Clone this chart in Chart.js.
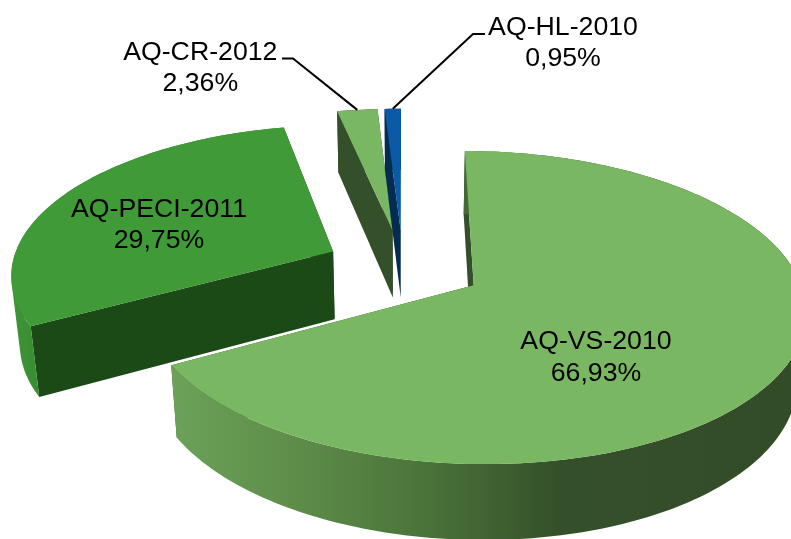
<!DOCTYPE html>
<html>
<head>
<meta charset="utf-8">
<style>html,body{margin:0;padding:0;background:#fff;overflow:hidden}canvas{display:block}</style>
<script src="https://cdn.jsdelivr.net/npm/chart.js@4/dist/chart.umd.js"></script>
</head>
<body>
<canvas id="c" width="791" height="539"></canvas>
<script>
const categories = ["AQ-VS-2010", "AQ-PECI-2011", "AQ-CR-2012", "AQ-HL-2010"];
const shares = [66.93, 29.75, 2.36, 0.95];
const shareLabels = ["66,93%", "29,75%", "2,36%", "0,95%"];
const topColors = ["#79b762", "#3f9a37", "#79b762", "#0a5aa6"];
const faceColors = ["#34502a", "#1c4a17", "#34502a", "#042b50"];
const explodePx = [60, 58, 60, 60];

// Camera of the tilted pie (perspective projection of the disc plane)
const CAM = {cx: 403, vpY: -787, A: 1072, B: 327.5, s0: 1.018, p: 0.143, c: 0.0226, D: 95};
function project(X, Y, z) {
  const w = CAM.s0 - CAM.p * Y + CAM.c * z;
  return {x: CAM.cx + X * CAM.B / w, y: CAM.vpY + (CAM.A + CAM.D * z) / w};
}
const RIM_STOPS = [
  [[172, "#6ba258"], [300, "#5d8c49"], [430, "#4a7239"], [560, "#34502a"], [791, "#334c28"]],
  [[0, "#3f9a37"], [40, "#398c32"]],
  [[330, "#34502a"], [400, "#34502a"]],
  [[380, "#042b50"], [410, "#042b50"]]
];

class Arc3D extends Chart.ArcElement {
  draw(ctx) {
    const i = this.$context.dataIndex;
    const R = this.outerRadius;
    const e = this.options.offset / R;
    const a0 = this.startAngle, a1 = this.endAngle, mid = (a0 + a1) / 2;
    const ox = Math.cos(mid) * e, oy = Math.sin(mid) * e;
    const steps = Math.max(2, Math.ceil((a1 - a0) / 0.02));
    const rimAt = (k, z) => {
      const a = a0 + (a1 - a0) * k / steps;
      return project(ox + Math.cos(a), oy + Math.sin(a), z);
    };
    const trace = pts => pts.forEach((p, n) => n ? ctx.lineTo(p.x, p.y) : ctx.moveTo(p.x, p.y));
    const poly = (pts, fill) => {
      ctx.beginPath();
      trace(pts);
      ctx.closePath();
      ctx.fillStyle = fill;
      ctx.fill();
    };
    const apexT = project(ox, oy, 0), apexB = project(ox, oy, 1);
    // cut faces
    poly([apexT, rimAt(0, 0), rimAt(0, 1), apexB], faceColors[i]);
    poly([apexT, rimAt(steps, 0), rimAt(steps, 1), apexB], faceColors[i]);
    // outer wall: union of quads with the same winding
    const stops = RIM_STOPS[i];
    const g = ctx.createLinearGradient(stops[0][0], 0, stops[stops.length - 1][0], 0);
    const span = stops[stops.length - 1][0] - stops[0][0];
    stops.forEach(s => g.addColorStop((s[0] - stops[0][0]) / span, s[1]));
    ctx.beginPath();
    for (let k = 0; k < steps; k++) {
      let q = [rimAt(k, 0), rimAt(k + 1, 0), rimAt(k + 1, 1), rimAt(k, 1)];
      let area = 0;
      q.forEach((p, n) => { const r = q[(n + 1) % 4]; area += p.x * r.y - r.x * p.y; });
      if (area < 0) q = q.reverse();
      trace(q);
      ctx.closePath();
    }
    ctx.fillStyle = g;
    ctx.fill();
    // top face
    const top = [apexT];
    for (let k = 0; k <= steps; k++) top.push(rimAt(k, 0));
    poly(top, this.options.backgroundColor);
  }
}
Arc3D.id = "arc3d";
Arc3D.defaults = Chart.ArcElement.defaults;
Arc3D.defaultRoutes = Chart.ArcElement.defaultRoutes;

class Pie3D extends Chart.DoughnutController {}
Pie3D.id = "pie3d";
Pie3D.defaults = Object.assign({}, Chart.DoughnutController.defaults, {dataElementType: "arc3d", cutout: 0});
Pie3D.overrides = Chart.DoughnutController.overrides;
Chart.register(Arc3D, Pie3D);

const LABEL_POS = [[596, 349, 380.5], [159, 217, 248], [200.3, 60, 91], [563, 35, 65.7]];
const LEADERS = {2: [[282, 58.5], [293, 58.5]], 3: [[485, 34], [473, 34]]};

const labelPlugin = {
  id: "labels3d",
  afterDatasetsDraw(chart) {
    const ctx = chart.ctx;
    const arcs = chart.getDatasetMeta(0).data;
    ctx.save();
    ctx.strokeStyle = "#000";
    ctx.lineWidth = 2;
    Object.keys(LEADERS).forEach(k => {
      const arc = arcs[k], e = arc.options.offset / arc.outerRadius;
      const mid = (arc.startAngle + arc.endAngle) / 2;
      const p = project((1 + e) * Math.cos(mid), (1 + e) * Math.sin(mid), 0);
      ctx.beginPath();
      LEADERS[k].forEach((q, n) => n ? ctx.lineTo(q[0], q[1]) : ctx.moveTo(q[0], q[1]));
      ctx.lineTo(p.x, p.y);
      ctx.stroke();
    });
    ctx.fillStyle = "#000";
    ctx.font = '26.7px "Liberation Sans", Arial, sans-serif';
    ctx.textAlign = "center";
    ctx.textBaseline = "alphabetic";
    categories.forEach((c, i) => {
      const [x, y1, y2] = LABEL_POS[i];
      ctx.fillText(c, x, y1);
      ctx.fillText(shareLabels[i], x, y2);
    });
    ctx.restore();
  }
};

new Chart(document.getElementById("c"), {
  type: "pie3d",
  data: {
    labels: categories,
    datasets: [{data: shares, backgroundColor: topColors, offset: explodePx, borderWidth: 0}]
  },
  options: {
    responsive: false,
    animation: false,
    rotation: 0,
    plugins: {legend: {display: false}, tooltip: {enabled: false}}
  },
  plugins: [labelPlugin]
});
</script>
</body>
</html>
